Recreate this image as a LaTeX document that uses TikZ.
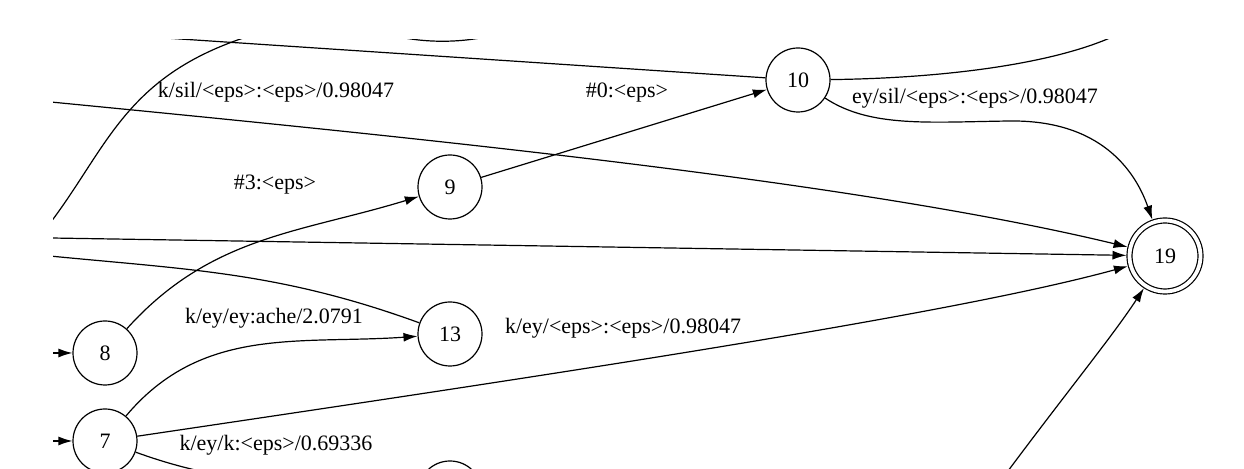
\documentclass[tikz,border=0pt]{standalone}
\usepackage{fontspec}
\setmainfont{Liberation Serif}
\usetikzlibrary{arrows.meta}

\begin{document}
\begin{tikzpicture}[
        x=0.5pt, y=-0.5pt,
        font=\fontsize{11}{13}\selectfont,
        state/.style={circle, draw, line width=0.6pt, minimum size=32pt, inner sep=0pt},
        final/.style={state, double, double distance=1.9pt, minimum size=35.5pt, outer sep=1.5pt},
        edgelbl/.style={inner sep=0pt},
        arrow/.style={-{Latex[length=7pt,width=4.5pt]}, line width=0.6pt},
        plain/.style={line width=0.6pt}
    ]
        \useasboundingbox (0,0) rectangle (1244,469);
        \clip (53,40) rectangle (1244,469);

        % States
        \node[state] (s10) at (798,80) {10};
        \node[state] (s9) at (450,187) {9};
        \node[state] (s13) at (450,334) {13};
        \node[state] (s8) at (105,353) {8};
        \node[state] (s7) at (105,441) {7};
        \node[state] (sB) at (450,493) {};
        \node[final] (s19) at (1165,256) {19};

        % Free ends of edges leaving the view
        \coordinate (sLow) at (40,236);
        \coordinate (sTop) at (270,30);
        \coordinate (c10) at (150,37);
        \coordinate (a1) at (395,36);
        \coordinate (a2) at (490,36);
        \coordinate (kIn) at (20,99);
        \coordinate (hIn) at (20,237.5);
        \coordinate (lEnd) at (20,253);
        \coordinate (rTop) at (1135,25);
        \coordinate (bIn) at (985,502);
        \coordinate (i8) at (20,353);
        \coordinate (i7) at (20,441);

        % Edges cut by the view
        \draw[plain] (sLow) .. controls (110,150) and (120,70) .. (sTop);
        \draw[plain] (s10) -- (c10);
        \draw[plain] (a1) .. controls (425,43) and (460,43) .. (a2);
        \draw[plain] (s10) .. controls (960,78) and (1080,60) .. (rTop);
        \draw[plain] (s13) to[out=160, in=-6] (lEnd);

        % Transitions
        \draw[arrow] (i8) -- (s8);
        \draw[arrow] (i7) -- (s7);
        \draw[arrow] (kIn) .. controls (400,136) and (850,180) .. (s19);
        \draw[arrow] (hIn) -- (s19);
        \draw[arrow] (s9) -- (s10);
        \draw[arrow] (s8) to[out=48, in=197] (s9);
        \draw[arrow] (s7) to[out=50, in=184] (s13);
        \draw[arrow] (s7) .. controls (550,375) and (950,315) .. (s19);
        \draw[arrow] (s7) to[out=-20, in=175] (sB);
        \draw[arrow] (s10) .. controls (870,128) and (930,122) .. (1010,121)
            .. controls (1100,120) and (1135,170) .. (s19);
        \draw[arrow] (bIn) .. controls (1060,400) and (1110,340) .. (s19);

        % Labels
        \node[edgelbl] (lA) at (276,92) {k/sil/<eps>:<eps>/0.98047};
        \node[edgelbl] (lB) at (627,93) {\#0:<eps>};
        \node[edgelbl] (lC) at (975,98) {ey/sil/<eps>:<eps>/0.98047};
        \node[edgelbl] (lD) at (275,185) {\#3:<eps>};
        \node[edgelbl] (lE) at (274,318) {k/ey/ey:ache/2.0791};
        \node[edgelbl] (lF) at (623,328) {k/ey/<eps>:<eps>/0.98047};
        \node[edgelbl] (lG) at (276,445) {k/ey/k:<eps>/0.69336};
    \end{tikzpicture}
\end{document}
